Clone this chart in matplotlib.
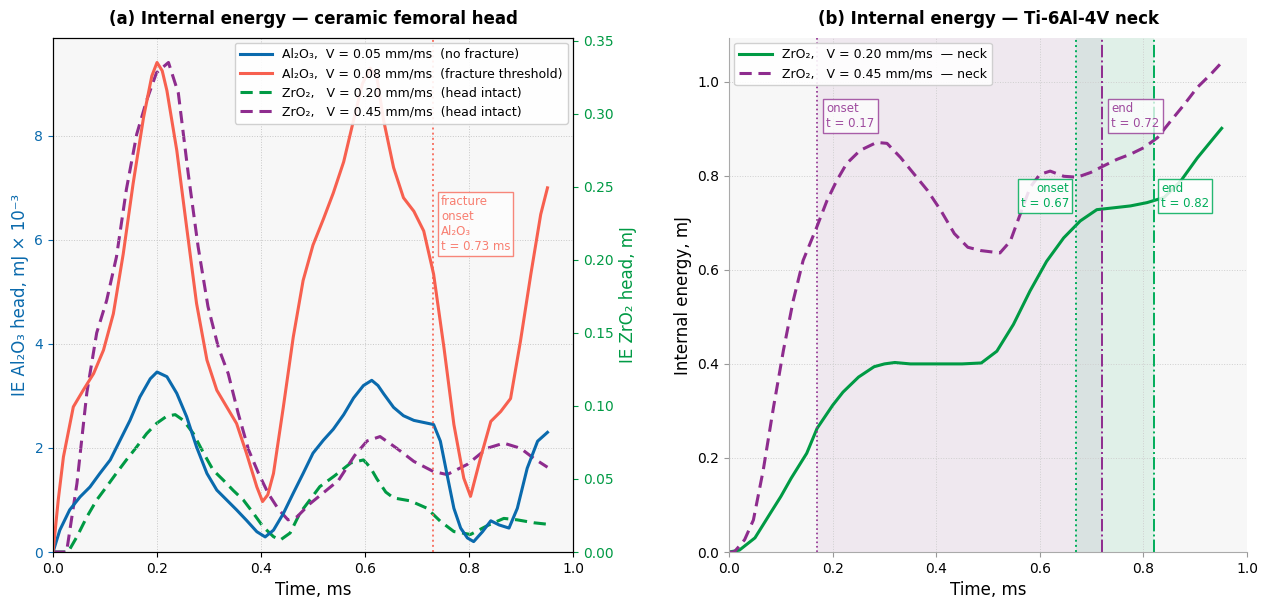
import numpy as np
import matplotlib
matplotlib.use('Agg')
import matplotlib.pyplot as plt

# ---- panel (a): ceramic femoral head ----
# Al2O3, V = 0.05 mm/ms (left axis, mJ x 1e-3)
t_al_slow = [0, 0.013, 0.032, 0.052, 0.071, 0.09, 0.11, 0.129, 0.148, 0.167, 0.187, 0.2,
             0.219, 0.238, 0.257, 0.276, 0.296, 0.315, 0.334, 0.353, 0.372, 0.392, 0.408,
             0.424, 0.443, 0.462, 0.481, 0.5, 0.52, 0.539, 0.559, 0.578, 0.597, 0.613,
             0.625, 0.636, 0.655, 0.674, 0.694, 0.713, 0.732, 0.745, 0.758, 0.771, 0.784, 0.797,
             0.809, 0.826, 0.842, 0.858, 0.877, 0.893, 0.912, 0.932, 0.951]
ie_al_slow = [0, 0.42, 0.81, 1.06, 1.25, 1.51, 1.77, 2.15, 2.53, 2.98, 3.33, 3.46,
              3.37, 3.05, 2.6, 2.02, 1.51, 1.19, 1.0, 0.81, 0.61, 0.39, 0.29,
              0.42, 0.74, 1.13, 1.51, 1.9, 2.15, 2.36, 2.64, 2.96, 3.2, 3.3,
              3.2, 3.04, 2.78, 2.62, 2.53, 2.49, 2.45, 2.13, 1.48, 0.84, 0.46, 0.27,
              0.2, 0.39, 0.6, 0.52, 0.46, 0.84, 1.61, 2.13, 2.3]

# Al2O3, V = 0.08 mm/ms (left axis)
t_al_fast = [0, 0.01, 0.02, 0.039, 0.058, 0.078, 0.097, 0.116, 0.135, 0.154, 0.174, 0.19,
             0.2, 0.21, 0.219, 0.238, 0.257, 0.276, 0.296, 0.315, 0.334, 0.353, 0.372, 0.392,
             0.403, 0.413, 0.424, 0.443, 0.462, 0.481, 0.5, 0.52, 0.539, 0.559, 0.578, 0.595,
             0.61, 0.623, 0.636, 0.655, 0.674, 0.694, 0.713, 0.732, 0.752, 0.771, 0.79,
             0.803, 0.822, 0.842, 0.861, 0.88, 0.899, 0.919, 0.938, 0.951]
ie_al_fast = [0, 1.0, 1.83, 2.79, 3.11, 3.43, 3.88, 4.58, 5.73, 7.08, 8.35, 9.15,
              9.41, 9.25, 8.87, 7.72, 6.24, 4.78, 3.69, 3.11, 2.79, 2.47, 1.9, 1.25,
              0.97, 1.1, 1.51, 2.79, 4.13, 5.22, 5.9, 6.4, 6.9, 7.5, 8.3, 9.0,
              9.3, 9.12, 8.29, 7.39, 6.81, 6.55, 6.17, 5.34, 3.92, 2.45, 1.42,
              1.07, 1.8, 2.51, 2.7, 2.95, 4.05, 5.34, 6.49, 7.0]

# ZrO2, V = 0.20 mm/ms (right axis, mJ)
t_zr_slow = [0, 0.029, 0.046, 0.065, 0.084, 0.103, 0.122, 0.141, 0.161, 0.18, 0.199, 0.219,
             0.235, 0.251, 0.27, 0.289, 0.308, 0.328, 0.347, 0.366, 0.385, 0.404, 0.424,
             0.437, 0.456, 0.475, 0.494, 0.513, 0.541, 0.573, 0.597, 0.61, 0.623, 0.64, 0.655,
             0.687, 0.719, 0.745, 0.771, 0.803, 0.835, 0.867, 0.893, 0.925, 0.951]
ie_zr_slow = [0, 0, 0.0105, 0.024, 0.0356, 0.0447, 0.054, 0.063, 0.072, 0.081, 0.088, 0.093,
              0.094, 0.09, 0.081, 0.068, 0.056, 0.049, 0.042, 0.0356, 0.0267, 0.0173, 0.0105,
              0.0082, 0.013, 0.0267, 0.0356, 0.0447, 0.052, 0.061, 0.063, 0.058, 0.05, 0.041,
              0.037, 0.035, 0.030, 0.021, 0.014, 0.012, 0.018, 0.023, 0.022, 0.020, 0.019]

# ZrO2, V = 0.45 mm/ms (right axis)
t_zr_fast = [0, 0.026, 0.046, 0.065, 0.084, 0.103, 0.122, 0.141, 0.161, 0.18, 0.199, 0.222,
             0.241, 0.26, 0.279, 0.298, 0.318, 0.337, 0.356, 0.376, 0.395, 0.414, 0.434,
             0.452, 0.469, 0.494, 0.525, 0.549, 0.58, 0.604, 0.629, 0.661, 0.694, 0.732,
             0.758, 0.797, 0.835, 0.867, 0.899, 0.925, 0.951]
ie_zr_fast = [0, 0, 0.047, 0.109, 0.15, 0.172, 0.202, 0.248, 0.286, 0.309, 0.328, 0.335,
              0.314, 0.259, 0.209, 0.168, 0.14, 0.122, 0.095, 0.07, 0.054, 0.04, 0.029,
              0.022, 0.024, 0.033, 0.042, 0.049, 0.066, 0.076, 0.079, 0.071, 0.062, 0.055,
              0.053, 0.06, 0.071, 0.0745, 0.071, 0.064, 0.058]

fracture_t = 0.73

# ---- panel (b): Ti-6Al-4V neck ----
t_neck_slow = [0, 0.02, 0.05, 0.08, 0.1, 0.12, 0.15, 0.17, 0.2, 0.22, 0.25, 0.28, 0.3, 0.32,
               0.35, 0.4, 0.45, 0.487, 0.517, 0.549, 0.581, 0.613, 0.646, 0.678, 0.71, 0.743,
               0.775, 0.807, 0.84, 0.872, 0.904, 0.936, 0.951]
ie_neck_slow = [0, 0.004, 0.03, 0.083, 0.118, 0.157, 0.21, 0.263, 0.312, 0.34, 0.372, 0.394, 0.4, 0.403,
                0.4, 0.4, 0.4, 0.402, 0.427, 0.484, 0.555, 0.618, 0.668, 0.704, 0.728, 0.732,
                0.736, 0.743, 0.754, 0.789, 0.838, 0.881, 0.901]

t_neck_fast = [0, 0.01, 0.03, 0.047, 0.066, 0.086, 0.105, 0.124, 0.143, 0.169, 0.189, 0.208,
               0.227, 0.253, 0.285, 0.305, 0.331, 0.357, 0.383, 0.409, 0.435, 0.461, 0.486,
               0.523, 0.543, 0.562, 0.581, 0.6, 0.62, 0.646, 0.672, 0.698, 0.723, 0.749,
               0.775, 0.801, 0.827, 0.853, 0.879, 0.904, 0.93, 0.951]
ie_neck_fast = [0, 0, 0.026, 0.068, 0.174, 0.309, 0.429, 0.535, 0.62, 0.69, 0.747, 0.79,
                0.826, 0.854, 0.871, 0.869, 0.839, 0.804, 0.769, 0.726, 0.677, 0.648, 0.641,
                0.636, 0.661, 0.718, 0.775, 0.803, 0.81, 0.799, 0.797, 0.807, 0.821, 0.835,
                0.846, 0.86, 0.881, 0.917, 0.952, 0.988, 1.016, 1.041]

fast_onset, fast_end = 0.17, 0.72
slow_onset, slow_end = 0.67, 0.82

BLUE = '#0a6aad'
RED = '#f7604f'
GREEN = '#009a44'
GREEN_L = '#00ad5a'
PURPLE = '#8e2c8e'
BG = '#f7f7f7'

plt.rcParams['font.family'] = ['DejaVu Sans']

fig = plt.figure(figsize=(12.69, 6.07), dpi=100)
ax = fig.add_axes([0.0418, 0.0906, 0.4097, 0.8468])
ax2 = ax.twinx()
axb = fig.add_axes([0.5745, 0.0906, 0.4082, 0.8468])

# panel (a)
ax.grid(True, linestyle=':', color='#c8c8c8', linewidth=0.7)
l1, = ax.plot(t_al_slow, ie_al_slow, color=BLUE, lw=2.2, solid_joinstyle='round',
              label='Al\u2082O\u2083,  V = 0.05 mm/ms  (no fracture)')
l2, = ax.plot(t_al_fast, ie_al_fast, color=RED, lw=2.2, solid_joinstyle='round',
              label='Al\u2082O\u2083,  V = 0.08 mm/ms  (fracture threshold)')
l3, = ax2.plot(t_zr_slow, ie_zr_slow, color=GREEN, lw=2.2, ls=(0, (4, 2.2)),
               label='ZrO\u2082,   V = 0.20 mm/ms  (head intact)')
l4, = ax2.plot(t_zr_fast, ie_zr_fast, color=PURPLE, lw=2.2, ls=(0, (4, 2.2)),
               label='ZrO\u2082,   V = 0.45 mm/ms  (head intact)')
ax.axvline(fracture_t, color=RED, ls=':', lw=1.4, alpha=0.85)
ax.text(fracture_t + 0.016, 6.3, 'fracture\nonset\nAl\u2082O\u2083\nt = 0.73 ms',
        color=RED, alpha=0.8, fontsize=8.5, va='center', ha='left',
        bbox=dict(boxstyle='square,pad=0.25', fc='white', ec=RED, alpha=0.75, lw=1))
ax.set_xlim(0, 1.0)
ax.set_ylim(0, max(ie_al_fast) * 1.05)
ax2.set_ylim(0, max(ie_zr_fast) * 1.05)
ax.set_xlabel('Time, ms', fontsize=12)
ax.set_ylabel('IE Al\u2082O\u2083 head, mJ \u00d7 10\u207b\u00b3', fontsize=12, color=BLUE)
ax2.set_ylabel('IE ZrO\u2082 head, mJ', fontsize=12, color=GREEN)
ax.tick_params(axis='y', colors=BLUE, labelsize=10)
ax.tick_params(axis='x', labelsize=10)
ax2.tick_params(axis='y', colors=GREEN, labelsize=10)
ax2.yaxis.set_major_formatter(matplotlib.ticker.FormatStrFormatter('%.2f'))
ax.set_title('(a) Internal energy \u2014 ceramic femoral head', fontsize=12, fontweight='bold', pad=10)
leg = ax.legend(handles=[l1, l2, l3, l4], loc='upper right', fontsize=9, framealpha=0.9,
                handlelength=2.6, borderaxespad=0.4)
leg.set_zorder(20)
ax.set_zorder(ax2.get_zorder() + 1)
ax.patch.set_visible(False)
ax2.patch.set_visible(True)
ax2.patch.set_facecolor(BG)

# panel (b)
axb.set_facecolor(BG)
axb.grid(True, linestyle=':', color='#cfcfcf', linewidth=0.7)
axb.axvspan(fast_onset, fast_end, color=PURPLE, alpha=0.07, lw=0)
axb.axvspan(slow_onset, slow_end, color=GREEN_L, alpha=0.09, lw=0)
axb.plot(t_neck_slow, ie_neck_slow, color=GREEN, lw=2.2, solid_joinstyle='round',
         label='ZrO\u2082,   V = 0.20 mm/ms  \u2014 neck')
axb.plot(t_neck_fast, ie_neck_fast, color=PURPLE, lw=2.2, ls=(0, (4, 2.2)),
         label='ZrO\u2082,   V = 0.45 mm/ms  \u2014 neck')
axb.axvline(fast_onset, color=PURPLE, ls=':', lw=1.2)
axb.axvline(fast_end, color=PURPLE, ls='-.', lw=1.4)
axb.axvline(slow_onset, color=GREEN_L, ls=':', lw=1.4)
axb.axvline(slow_end, color=GREEN_L, ls='-.', lw=1.4)
box_p = dict(boxstyle='square,pad=0.25', fc='white', ec=PURPLE, alpha=0.75, lw=1)
box_g = dict(boxstyle='square,pad=0.25', fc='white', ec=GREEN_L, alpha=0.85, lw=1)
axb.text(fast_onset + 0.018, 0.928, 'onset\nt = 0.17', color=PURPLE, fontsize=8.5,
         ha='left', va='center', bbox=box_p, alpha=0.85)
axb.text(fast_end + 0.018, 0.928, 'end\nt = 0.72', color=PURPLE, fontsize=8.5,
         ha='left', va='center', bbox=box_p, alpha=0.85)
axb.text(slow_onset - 0.014, 0.758, 'onset\nt = 0.67', color=GREEN_L, fontsize=8.5,
         ha='right', va='center', multialignment='right', bbox=box_g)
axb.text(slow_end + 0.014, 0.758, 'end\nt = 0.82', color=GREEN_L, fontsize=8.5,
         ha='left', va='center', bbox=box_g)
axb.set_xlim(0, 1.0)
axb.set_ylim(0, max(ie_neck_fast) * 1.05)
axb.set_xlabel('Time, ms', fontsize=12)
axb.set_ylabel('Internal energy, mJ', fontsize=12)
axb.tick_params(labelsize=10, color='#999999')
for s in ['top', 'right']:
    axb.spines[s].set_visible(False)
for s in ['left', 'bottom']:
    axb.spines[s].set_color('#aaaaaa')
axb.set_title('(b) Internal energy \u2014 Ti-6Al-4V neck', fontsize=12, fontweight='bold', pad=10)
axb.legend(loc='upper left', fontsize=9, framealpha=0.9, handlelength=2.6, borderaxespad=0.4)

fig.savefig('out.png', dpi=100)
